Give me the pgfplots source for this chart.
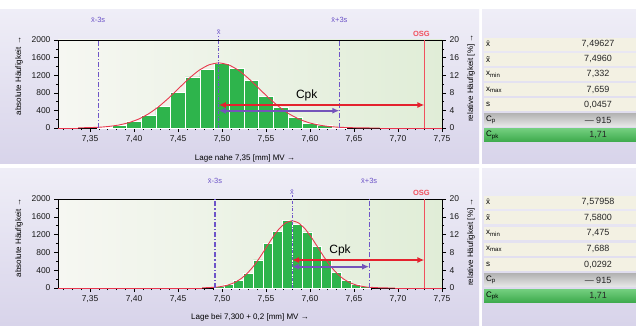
\documentclass[border=0pt]{standalone}
\usepackage{fontspec}
\setmainfont{Liberation Sans}
\usepackage{pgfplots}
\pgfplotsset{compat=1.18}
\usetikzlibrary{arrows.meta}

\definecolor{panT}{HTML}{EFEEF7}
\definecolor{panB}{HTML}{D8D4EA}
\definecolor{plotL}{HTML}{F6F7F2}
\definecolor{plotR}{HTML}{E0EDD7}
\definecolor{bargreen}{HTML}{2EB44C}
\definecolor{curvered}{HTML}{E8384E}
\definecolor{arrred}{HTML}{E4222E}
\definecolor{purp}{HTML}{7454BA}
\definecolor{lineP}{HTML}{6E55C8}
\definecolor{osg}{HTML}{F0505E}
\definecolor{rowbg}{HTML}{F3F1E3}
\definecolor{cpA}{HTML}{B4B4B4}
\definecolor{cpB}{HTML}{E8E8E8}
\definecolor{cpkA}{HTML}{72CE7E}
\definecolor{cpkB}{HTML}{3DAA4C}

\pgfplotsset{
  histbase/.style={
    anchor=south west, scale only axis, width=384pt,
    xmin=7.3136, xmax=7.75, clip=false,
    tick align=outside,
    major tick length=4pt, minor tick length=2.2pt,
    every tick/.append style={black, line width=0.6pt},
    axis line style={black, line width=0.9pt},
    ticklabel style={font=\fontsize{8.5}{9}\selectfont, text=black!90},
    /pgf/number format/assume math mode=true,
  },
  leftax/.style={histbase,
    ymin=0, ymax=2000,
    ytick={0,400,800,1200,1600,2000}, minor ytick={200,600,1000,1400,1800},
    xtick={7.35,7.4,7.45,7.5,7.55,7.6,7.65,7.7,7.75},
    minor xtick={7.32,7.33,7.34,7.36,7.37,7.38,7.39,7.41,7.42,7.43,7.44,7.46,7.47,7.48,7.49,7.51,7.52,7.53,7.54,7.56,7.57,7.58,7.59,7.61,7.62,7.63,7.64,7.66,7.67,7.68,7.69,7.71,7.72,7.73,7.74},
    xtick pos=bottom, ytick pos=left,
    xticklabel={\pgfmathprintnumber[fixed,fixed zerofill,precision=2,use comma]{\tick}},
    yticklabel={\pgfmathprintnumber[fixed,precision=0,1000 sep={}]{\tick}},
    axis background/.style={left color=plotL, right color=plotR},
  },
  rightax/.style={histbase,
    ymin=0, ymax=20, axis x line=none, axis y line*=right,
    ytick={0,4,8,12,16,20}, minor ytick={2,6,10,14,18},
    yticklabel={\pgfmathprintnumber[fixed,precision=0]{\tick}},
  },
  bars/.style={ybar, fill=bargreen, draw=white, line width=0.8pt},
  curve/.style={curvered, line width=0.9pt, smooth, tension=0.3},
  sline/.style={lineP, line width=1.2pt, dash pattern=on 5pt off 2pt on 1.2pt off 2pt},
  mline/.style={lineP, line width=0.9pt, dash pattern=on 3pt off 1.5pt on 1pt off 1.5pt},
  osgline/.style={osg, line width=1.4pt},
  redarr/.style={arrred, line width=1.7pt, {Latex[length=7pt,width=6pt]}-{Latex[length=7pt,width=6pt]}},
  purarr/.style={purp, line width=1.7pt, {Latex[length=7pt,width=6pt]}-{Latex[length=7pt,width=6pt]}},
}

\newcommand{\tabrow}[4]{%
  \path[#4] (484pt,#1pt-6.5pt) rectangle (636pt,#1pt+6.5pt);
  \node[anchor=west, font=\fontsize{8}{9}\selectfont, inner sep=0pt] at (486pt,#1pt) {#2};
  \node[font=\fontsize{9}{10}\selectfont, text=black!85, inner sep=0pt] at (598pt,#1pt) {#3};
}

\begin{document}
\begin{tikzpicture}
\path[use as bounding box] (0pt,0pt) rectangle (636pt,325pt);
\fill[white] (0pt,0pt) rectangle (636pt,325pt);
\shade[top color=panT, bottom color=panB] (0pt,162pt) rectangle (479pt,316pt);
\shade[top color=panT, bottom color=panB] (0pt,0pt) rectangle (479pt,157pt);
\shade[top color=panT, bottom color=panB] (482pt,162pt) rectangle (636pt,316pt);
\shade[top color=panT, bottom color=panB] (482pt,0pt) rectangle (636pt,157pt);

% ---- tables ----
\tabrow{281}{\=x}{7,49627}{fill=rowbg}
\tabrow{265.8}{\~x}{7,4960}{fill=rowbg}
\tabrow{250.6}{x\textsubscript{min}}{7,332}{fill=rowbg}
\tabrow{235.4}{x\textsubscript{max}}{7,659}{fill=rowbg}
\tabrow{220.2}{s}{0,0457}{fill=rowbg}
\tabrow{205}{C\textsubscript{p}}{--- 915}{top color=cpA, bottom color=cpB}
\tabrow{189.8}{C\textsubscript{pk}}{1,71}{top color=cpkA, bottom color=cpkB}

\tabrow{123}{\=x}{7,57958}{fill=rowbg}
\tabrow{107.3}{\~x}{7,5800}{fill=rowbg}
\tabrow{91.7}{x\textsubscript{min}}{7,475}{fill=rowbg}
\tabrow{76}{x\textsubscript{max}}{7,688}{fill=rowbg}
\tabrow{60.3}{s}{0,0292}{fill=rowbg}
\tabrow{44.7}{C\textsubscript{p}}{--- 915}{top color=cpA, bottom color=cpB}
\tabrow{29}{C\textsubscript{pk}}{1,71}{top color=cpkA, bottom color=cpkB}

% ---- top histogram ----
\begin{axis}[leftax, at={(58pt,197pt)}, height=88pt]
\addplot[bars, bar width=0.016667] coordinates {
(7.3667,20) (7.3833,60) (7.4000,140) (7.4167,290) (7.4333,480) (7.4500,810)
(7.4667,1160) (7.4833,1340) (7.5000,1470) (7.5167,1350) (7.5333,1080)
(7.5500,720) (7.5667,470) (7.5833,230) (7.6000,110) (7.6167,50) (7.6333,20)};
\addplot[curvered, line width=0.9pt] coordinates {(7.3136,0) (7.3364,0)};
\addplot[curve] coordinates {
(7.3364,3) (7.3592,16) (7.3706,34) (7.3820,65) (7.3935,118) (7.4049,200)
(7.4163,320) (7.4278,481) (7.4392,678) (7.4506,898) (7.4620,1117) (7.4735,1306)
(7.4849,1434) (7.4963,1480) (7.5077,1434) (7.5192,1306) (7.5306,1117) (7.5420,898)
(7.5534,678) (7.5649,481) (7.5763,320) (7.5877,200) (7.5991,118) (7.6106,65)
(7.6220,34) (7.6334,16) (7.6562,3) (7.6791,0)};
\addplot[curvered, line width=0.9pt] coordinates {(7.6791,0) (7.75,0)};
\addplot[sline] coordinates {(7.3592,0) (7.3592,2000)};
\addplot[sline] coordinates {(7.6334,0) (7.6334,2000)};
\addplot[mline] coordinates {(7.4963,0) (7.4963,2080)};
\addplot[osgline] coordinates {(7.73,0) (7.73,2000)};
\addplot[redarr] coordinates {(7.4963,523) (7.73,523)};
\addplot[purarr] coordinates {(7.4963,393) (7.6334,393)};
\node[text=lineP, font=\fontsize{7.5}{8}\selectfont, yshift=20pt] at (axis cs:7.3592,2000) {\=x-3s};
\node[text=lineP, font=\fontsize{7.5}{8}\selectfont, yshift=20pt] at (axis cs:7.6334,2000) {\=x+3s};
\node[text=lineP, font=\fontsize{7.5}{8}\selectfont, yshift=8pt] at (axis cs:7.4963,2000) {\=x};
\node[text=osg, font=\bfseries\fontsize{7.5}{8}\selectfont, yshift=6pt, xshift=-3pt] at (axis cs:7.73,2000) {OSG};
\node[font=\fontsize{12}{13}\selectfont] at (axis cs:7.5962,750) {Cpk};
\end{axis}
\begin{axis}[rightax, at={(58pt,197pt)}, height=88pt]
\addplot[draw=none] coordinates {(7.5,0)};
\end{axis}

% ---- bottom histogram ----
\begin{axis}[leftax, at={(58pt,37pt)}, height=89pt]
\addplot[bars, bar width=0.011111] coordinates {
(7.4967,25) (7.5078,70) (7.5189,175) (7.5300,330) (7.5411,630) (7.5522,1000)
(7.5633,1270) (7.5744,1520) (7.5856,1430) (7.5967,1260) (7.6078,930)
(7.6189,620) (7.6300,340) (7.6411,160) (7.6522,70) (7.6633,25)};
\addplot[curvered, line width=0.9pt] coordinates {(7.3136,0) (7.4774,0)};
\addplot[curve] coordinates {
(7.4774,3) (7.4920,17) (7.4993,34) (7.5066,66) (7.5139,120) (7.5212,204)
(7.5285,327) (7.5358,490) (7.5431,691) (7.5504,916) (7.5577,1140) (7.5650,1333)
(7.5723,1463) (7.5796,1510) (7.5869,1463) (7.5942,1333) (7.6015,1140) (7.6088,916)
(7.6161,691) (7.6234,490) (7.6307,327) (7.6380,204) (7.6453,120) (7.6526,66)
(7.6599,34) (7.6672,17) (7.6818,3) (7.6964,0)};
\addplot[curvered, line width=0.9pt] coordinates {(7.6964,0) (7.75,0)};
\addplot[sline] coordinates {(7.4920,0) (7.4920,2000)};
\addplot[sline] coordinates {(7.6672,0) (7.6672,2000)};
\addplot[mline] coordinates {(7.5796,0) (7.5796,2080)};
\addplot[osgline] coordinates {(7.73,0) (7.73,2000)};
\addplot[redarr] coordinates {(7.5796,629) (7.73,629)};
\addplot[purarr] coordinates {(7.5796,479) (7.6672,479)};
\node[text=lineP, font=\fontsize{7.5}{8}\selectfont, yshift=18pt] at (axis cs:7.4920,2000) {\=x-3s};
\node[text=lineP, font=\fontsize{7.5}{8}\selectfont, yshift=18pt] at (axis cs:7.6672,2000) {\=x+3s};
\node[text=lineP, font=\fontsize{7.5}{8}\selectfont, yshift=7pt] at (axis cs:7.5796,2000) {\=x};
\node[text=osg, font=\bfseries\fontsize{7.5}{8}\selectfont, yshift=6pt, xshift=-3pt] at (axis cs:7.73,2000) {OSG};
\node[font=\fontsize{12}{13}\selectfont] at (axis cs:7.6341,838) {Cpk};
\end{axis}
\begin{axis}[rightax, at={(58pt,37pt)}, height=89pt]
\addplot[draw=none] coordinates {(7.5,0)};
\end{axis}

% ---- axis titles ----
\node[rotate=90, font=\fontsize{8}{9}\selectfont] at (19pt,249pt) {absolute Häufigkeit →};
\node[rotate=90, font=\fontsize{8}{9}\selectfont] at (471pt,247pt) {relative Häufigkeit [\%] →};
\node[font=\fontsize{8}{9}\selectfont] at (245pt,167pt) {Lage nahe 7,35 [mm] MV →};
\node[rotate=90, font=\fontsize{8}{9}\selectfont] at (19pt,87pt) {absolute Häufigkeit →};
\node[rotate=90, font=\fontsize{8}{9}\selectfont] at (471pt,83pt) {relative Häufigkeit [\%] →};
\node[font=\fontsize{8}{9}\selectfont] at (250pt,8pt) {Lage bei 7,300 + 0,2 [mm] MV →};
\end{tikzpicture}
\end{document}
